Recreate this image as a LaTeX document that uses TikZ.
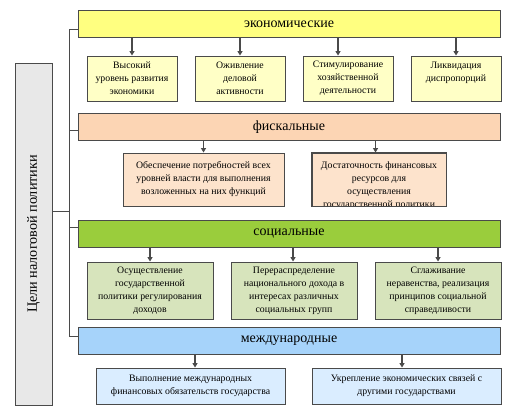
\documentclass[tikz,border=0pt]{standalone}
\usepackage{fontspec}
\setmainfont{Liberation Serif}
\newfontfamily\tnr{Liberation Serif}
\usetikzlibrary{arrows.meta,calc}
\definecolor{econbar}{HTML}{FFFF80}
\definecolor{econsub}{HTML}{FFFFC6}
\definecolor{fiscbar}{HTML}{FCD5B4}
\definecolor{fiscsub}{HTML}{FDE3CC}
\definecolor{socbar}{HTML}{9ACD3C}
\definecolor{socsub}{HTML}{D7E4BC}
\definecolor{intbar}{HTML}{A6D3FA}
\definecolor{intsub}{HTML}{DAEDFF}
\definecolor{goalfill}{HTML}{E8E8E8}
\definecolor{edge}{HTML}{4A4A4A}
\begin{document}
\begin{tikzpicture}[x=1pt,y=-1pt,
  bar/.style={draw=edge, line width=0.9pt, minimum width=422, minimum height=27, inner sep=0, font=\tnr\fontsize{14}{16}\selectfont},
  sub/.style={draw=edge, line width=0.9pt, inner sep=0, align=center, font=\tnr\fontsize{9.8}{13}\selectfont},
  subtext/.style={inner sep=0, align=center, font=\tnr\fontsize{9.8}{13}\selectfont},
  arr/.style={draw=edge, line width=1.1pt, -{Triangle[length=4.5pt,width=5pt]}},
  bus/.style={draw=edge, line width=0.9pt}]
\useasboundingbox (0,0) rectangle (510,418);
% left box
\node[draw=edge, line width=0.9pt, fill=goalfill, minimum width=37, minimum height=342, inner sep=0] (goal) at (33.5,234) {};
\node[rotate=90, font=\tnr\fontsize{14.2}{16}\selectfont, inner sep=0] (goaltext) at (goal.center) {Цели налоговой политики};
% bars
\node[bar, fill=econbar] (econ) at (289,24.2) {экономические};
\node[bar, fill=fiscbar] (fisc) at (289,127) {фискальные};
\node[bar, fill=socbar, minimum height=26.5] (soc) at (289,233.7) {социальные};
\node[bar, fill=intbar, minimum height=26.5] (intl) at (289,341) {международные};
% econ subs
\node[sub, fill=econsub, minimum width=90, minimum height=45] (e1) at (132,78.5) {Высокий\\уровень развития\\экономики};
\node[sub, fill=econsub, minimum width=90, minimum height=45] (e2) at (240,78.5) {Оживление\\деловой\\активности};
\node[sub, fill=econsub, minimum width=90, minimum height=45] (e3) at (348,78.5) {Стимулирование\\хозяйственной\\деятельности};
\node[sub, fill=econsub, minimum width=90, minimum height=45] (e4) at (456,78.5) {};
\node[subtext, anchor=north] (e4t) at ($(e4.north)+(0,6.5)$) {Ликвидация\\диспропорций};
% fiscal subs
\node[sub, fill=fiscsub, minimum width=161, minimum height=53] (f1) at (203.5,179.5) {Обеспечение потребностей всех\\уровней власти для выполнения\\возложенных на них функций};
\node[sub, fill=fiscsub, minimum width=134, minimum height=53] (f2) at (379,179.5) {};
\begin{scope}
\clip (f2.north west) rectangle (f2.south east);
\node[subtext, anchor=north] (f2t) at ($(f2.north)+(0,9)$) {Достаточность финансовых\\ресурсов для\\осуществления\\государственной политики};
\end{scope}
\draw[draw=edge, line width=0.9pt] (f2.north west) rectangle (f2.south east);
% social subs
\node[sub, fill=socsub, minimum width=126, minimum height=57] (s1) at (150,290.5) {Осуществление\\государственной\\политики регулирования\\доходов};
\node[sub, fill=socsub, minimum width=126, minimum height=57] (s2) at (294,290.5) {Перераспределение\\национального дохода в\\интересах различных\\социальных групп};
\node[sub, fill=socsub, minimum width=126, minimum height=57] (s3) at (438,290.5) {Сглаживание\\неравенства, реализация\\принципов социальной\\справедливости};
% international subs
\node[sub, fill=intsub, minimum width=189, minimum height=36] (i1) at (190.5,386) {Выполнение международных\\финансовых обязательств государства};
\node[sub, fill=intsub, minimum width=189, minimum height=36] (i2) at (406.5,386) {Укрепление экономических связей с\\другими государствами};
% arrows
\draw[arr] (econ.south -| e1.north) -- (e1.north);
\draw[arr] (econ.south -| e2.north) -- (e2.north);
\coordinate (e3a) at ($(e3.north)+(-10,0)$);
\draw[arr] (econ.south -| e3a) -- (e3a);
\draw[arr] (econ.south -| e4.north) -- (e4.north);
\draw[arr] (fisc.south -| f1.north) -- (f1.north);
\coordinate (f2a) at ($(f2.north)+(-3.5,0)$);
\draw[arr] (fisc.south -| f2a) -- (f2a);
\coordinate (s2a) at ($(s2.north)+(-1,0)$);
\draw[arr] (soc.south -| s1.north) -- (s1.north);
\draw[arr] (soc.south -| s2a) -- (s2a);
\draw[arr] (soc.south -| s3.north) -- (s3.north);
\coordinate (i1a) at ($(i1.north)+(4.5,0)$);
\coordinate (i2a) at ($(i2.north)+(-4.5,0)$);
\draw[arr] (intl.south -| i1a) -- (i1a);
\draw[arr] (intl.south -| i2a) -- (i2a);
% bus
\coordinate (bx) at (69.5,0);
\coordinate (ye) at (0,29);
\coordinate (yf) at (0,130);
\coordinate (ys) at (0,227);
\coordinate (yi) at (0,336);
\coordinate (yg) at (0,211);
\draw[bus] (econ.west |- ye) -- (bx |- ye) -- (bx |- yi) -- (intl.west |- yi);
\draw[bus] (bx |- yf) -- (fisc.west |- yf);
\draw[bus] (bx |- ys) -- (soc.west |- ys);
\draw[bus] (goal.east |- yg) -- (bx |- yg);
\end{tikzpicture}
\end{document}
